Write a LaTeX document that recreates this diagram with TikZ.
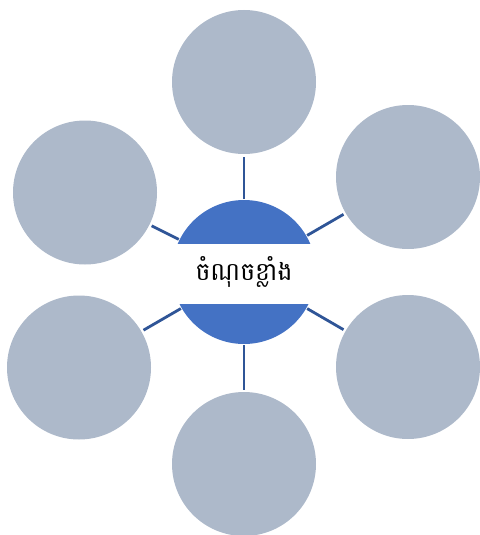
\documentclass[tikz,border=0pt]{standalone}
\usepackage{fontspec}
\newfontfamily\khmerfont[Script=Khmer]{Battambang}
\definecolor{outerfill}{HTML}{ADB9CA}
\definecolor{hubfill}{HTML}{4472C4}
\definecolor{linkc}{HTML}{2F5597}
\begin{document}
\begin{tikzpicture}[x=1pt,y=-1pt,
  outer/.style={circle,fill=outerfill,minimum size=144pt,inner sep=0pt,outer sep=0pt},
  hub/.style={circle,fill=hubfill,minimum size=144pt,inner sep=0pt,outer sep=0pt},
  link/.style={draw=linkc,line width=2.8pt,shorten <=1pt,shorten >=2.5pt}]
\useasboundingbox (0,0) rectangle (479,535);
\node[outer] (t)  at (244,82) {};
\node[outer] (ur) at (408,177) {};
\node[outer] (lr) at (408,367) {};
\node[outer] (b)  at (244,464) {};
\node[outer] (ll) at (79,367.5) {};
\node[outer] (ul) at (85,192.5) {};
\node[hub] (c) at (244,272) {};
\begin{scope}
  \clip (c.center) circle (73.5pt);
  \fill[white] (150,244) rectangle (340,304);
\end{scope}
\node[font=\khmerfont\fontsize{25}{30}\selectfont] (lbl) at (244,272) {ចំណុចខ្លាំង};
\draw[link] (c) -- (t);
\draw[link] (c) -- (ur);
\draw[link] (c) -- (lr);
\draw[link] (c) -- (b);
\draw[link] (c) -- (ll);
\draw[link] (c) -- (ul);
\end{tikzpicture}
\end{document}
